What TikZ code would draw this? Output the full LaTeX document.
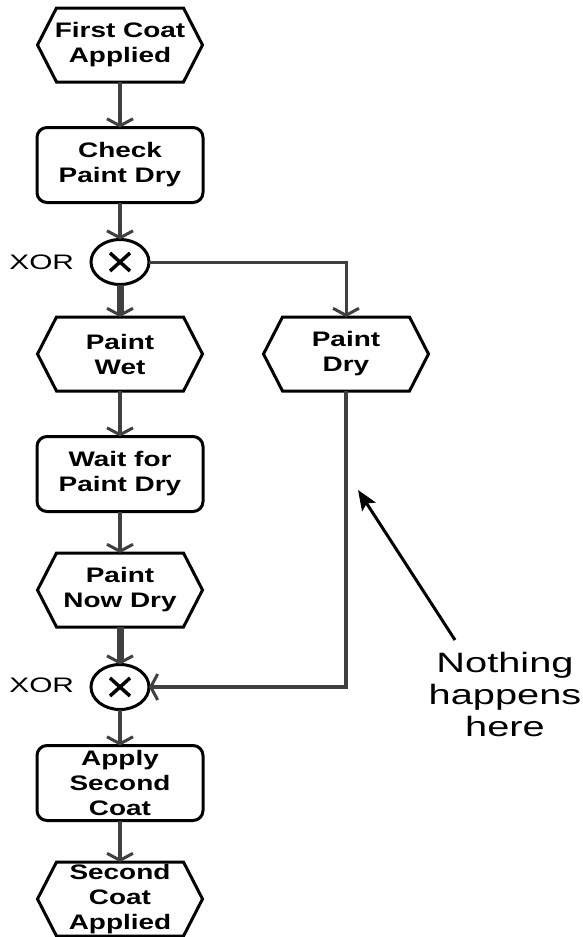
\documentclass[tikz,border=0pt]{standalone}
\usepackage{fontspec}
\setmainfont{Liberation Sans}[FakeStretch=1.42]
\newfontfamily\boxfont{Liberation Sans Bold}[FakeStretch=1.33]
\usetikzlibrary{arrows.meta,shapes.geometric}

\begin{document}
\begin{tikzpicture}[x=1pt,y=-1pt,
  every node/.style={inner sep=0pt,outer sep=0pt},
  label text/.style={font=\boxfont\fontsize{21}{25}\selectfont,align=center},
  hexnode/.style={label text,minimum width=165pt,minimum height=74pt},
  taskbox/.style={label text,draw=black,line width=3pt,rounded corners=10pt,minimum width=166pt,minimum height=75pt},
  xorgate/.style={ellipse,draw=black,line width=3pt,minimum width=58pt,minimum height=45pt},
  hexline/.style={draw=black,line width=3pt,line join=miter},
  flow/.style={draw=black!75,line width=3.5pt,-{Straight Barb[length=7pt,width=26pt,line width=3pt]}},
  flowthick/.style={flow,line width=7pt},
  note arrow/.style={draw=black,line width=3pt,-{Stealth[length=20pt,width=16pt,inset=4pt]}}]

\useasboundingbox[fill=white] (0,0) rectangle (583,937);

% events (hexagons) and functions (rounded boxes)
\node[hexnode] (fca) at (120,45) {First Coat\\Applied};
\node[taskbox] (cpd) at (120,165) {Check\\Paint Dry};
\node[xorgate] (x1) at (120,262) {};
\node[hexnode] (pw) at (120,354) {Paint\\Wet};
\node[hexnode] (pd) at (346,354) {Paint\\Dry};
\node[taskbox] (wpd) at (120,474) {Wait for\\Paint Dry};
\node[hexnode] (pnd) at (120,590) {Paint\\Now Dry};
\node[xorgate] (x2) at (120,687) {};
\node[taskbox] (asc) at (120,783) {Apply\\Second\\Coat};
\node[hexnode] (sca) at (120,899) {Second\\Coat\\Applied};

% hexagon outlines around the event nodes
\foreach \n in {fca,pw,pd,pnd,sca}
  \path[hexline] (\n.west) -- ([xshift=19pt]\n.north west) -- ([xshift=-19pt]\n.north east)
     -- (\n.east) -- ([xshift=-19pt]\n.south east) -- ([xshift=19pt]\n.south west) -- cycle;

% XOR crosses
\foreach \n in {x1,x2}
  \draw[line width=3.5pt] ([shift={(-10,-9)}]\n.center) -- ([shift={(10,9)}]\n.center)
                          ([shift={(-10,9)}]\n.center) -- ([shift={(10,-9)}]\n.center);

\node[font=\fontsize{21}{25}\selectfont,anchor=east] (xl1) at (74,262) {XOR};
\node[font=\fontsize{21}{25}\selectfont,anchor=east] (xl2) at (74,685) {XOR};

% control flow
\path[flow] (fca) -- (cpd);
\path[flow] (cpd) -- (x1);
\path[flowthick] (x1) -- (pw);
\path[flow,line width=3pt] (x1.east) -| (pd.north);
\path[flow] (pw) -- (wpd);
\path[flow] (wpd) -- (pnd);
\path[flowthick] (pnd) -- (x2);
\path[flow] (pd.south) |- (x2.east);
\path[flow] (x2) -- (asc);
\path[flow] (asc) -- (sca);

% annotation
\node[font=\fontsize{28}{32}\selectfont,align=center] (note) at (505,694) {Nothing\\happens\\here};
\coordinate (nstart) at (455,640);
\coordinate (ntip) at (358,490);
\path[note arrow] (nstart) -- (ntip);
\end{tikzpicture}
\end{document}
